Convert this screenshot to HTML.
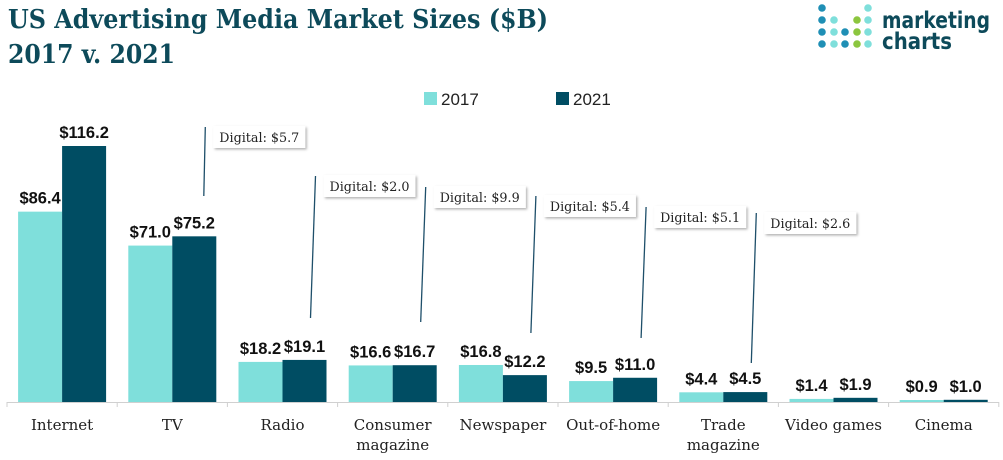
<!DOCTYPE html>
<html><head><meta charset="utf-8"><style>
html,body{margin:0;padding:0;background:#fff;width:1003px;height:460px;overflow:hidden}
svg{display:block}
</style></head><body>
<svg id="chart" width="1003" height="460" xmlns="http://www.w3.org/2000/svg">
  <defs><filter id="sh" x="-10%" y="-20%" width="130%" height="160%"><feDropShadow dx="1.5" dy="1.5" stdDeviation="1.2" flood-color="#000" flood-opacity="0.3"/></filter></defs>
  <g font-family="'DejaVu Serif','Liberation Serif',serif" font-weight="bold" fill="#0d4a5a">
    <text x="8" y="28" font-size="26" textLength="540" lengthAdjust="spacingAndGlyphs">US Advertising Media Market Sizes ($B)</text>
    <text x="8" y="63" font-size="26" textLength="167" lengthAdjust="spacingAndGlyphs">2017 v. 2021</text>
  </g>
  <g id="logo"></g>
  <g font-family="'Liberation Sans',sans-serif" font-size="17" fill="#222">
    <rect x="424" y="92" width="13" height="13" fill="#7fdfdb"/>
    <text x="441" y="105">2017</text>
    <rect x="556" y="92" width="13" height="13" fill="#004d63"/>
    <text x="573" y="105">2021</text>
  </g>
  <g id="plot"></g>
</svg>
<script>
const categories = [["Internet"],["TV"],["Radio"],["Consumer","magazine"],["Newspaper"],["Out-of-home"],["Trade","magazine"],["Video games"],["Cinema"]];
const values2017 = [86.4,71.0,18.2,16.6,16.8,9.5,4.4,1.4,0.9];
const values2021 = [116.2,75.2,19.1,16.7,12.2,11.0,4.5,1.9,1.0];
const digitalLabels = [null,"Digital: $5.7","Digital: $2.0","Digital: $9.9","Digital: $5.4","Digital: $5.1","Digital: $2.6",null,null];

const NS="http://www.w3.org/2000/svg";
const plot=document.getElementById('plot');
const baseY=402, pxPerUnit=256/116.2, x0=7, step=110.2, barW=44;
function yScale(v){return baseY - v*pxPerUnit;}
function xCenter(i){return x0 + step*(i+0.5);}
function mk(tag,attrs,parent){const e=document.createElementNS(NS,tag);for(const k in attrs)e.setAttribute(k,attrs[k]);(parent||plot).appendChild(e);return e;}

const axis=mk('line',{x1:x0,y1:baseY+0.5,x2:x0+step*9,y2:baseY+0.5,stroke:'#d0d0d0','stroke-width':1});


for(let i=0;i<=9;i++){
  const t=mk('line',{x1:x0+step*i,y1:baseY,x2:x0+step*i,y2:baseY+5,stroke:'#d0d0d0'});
  
  
}
categories.forEach((lines,i)=>{
  const cx=xCenter(i);
  const series=[[values2017[i],'#7fdfdb',cx-barW,'2017'],[values2021[i],'#004d63',cx,'2021']];
  series.forEach(([v,c,x,s])=>{
    const y=yScale(v);
    const r=mk('rect',{x:x,y:y,width:barW,height:baseY-y,fill:c});
    
    
    const t=mk('text',{x:x+barW/2,y:y-8,'text-anchor':'middle','font-family':"'Liberation Sans',sans-serif",'font-weight':'bold','font-size':16.5,fill:'#111'});
    t.textContent='$'+v.toFixed(1);
    
    
  });
  const lab=mk('text',{x:cx,y:430,'text-anchor':'middle','font-family':"'DejaVu Serif','Liberation Serif',serif",'font-size':15,fill:'#222'});
  
  
  lines.forEach((ln,j)=>{const ts=mk('tspan',{x:cx,dy:j?20:0},lab);ts.textContent=ln;});
  const d=digitalLabels[i];
  if(d){
    const lineTop = [0,127,176,187,196,207,213][i];
    const lineBot = [0,196,318,322,333,338,363][i];
    const lx = cx + 33;
    const l=mk('line',{x1:lx,y1:lineTop,x2:lx-(i===1?1.5:5),y2:lineBot,stroke:'#1e4f6a','stroke-width':1.3});
    
    
    const bx=lx+8, by=lineTop-1;
    const b=mk('rect',{x:bx,y:by,width:92,height:22,fill:'#fff',filter:'url(#sh)'});
    
    
    const tt=mk('text',{x:bx+46,y:by+16,'text-anchor':'middle','font-family':"'DejaVu Serif','Liberation Serif',serif",'font-size':13,fill:'#222',textLength:80,lengthAdjust:'spacingAndGlyphs'});
    tt.textContent=d;
    
    
  }
});
// logo
const logo=document.getElementById('logo');
const dots=[[0,0,'#1f8fb5'],[4,0,'#7fdfdb'],[0,1,'#1f8fb5'],[1,1,'#7fdfdb'],[3,1,'#8cc63f'],[4,1,'#7fdfdb'],[0,2,'#1f8fb5'],[1,2,'#7fdfdb'],[2,2,'#1f8fb5'],[3,2,'#8cc63f'],[4,2,'#7fdfdb'],[0,3,'#1f8fb5'],[1,3,'#7fdfdb'],[2,3,'#1f8fb5'],[3,3,'#8cc63f'],[4,3,'#7fdfdb']];
dots.forEach(([c,r,col])=>{
  mk('circle',{cx:[822,834,845,857,868][c],cy:[8,20,32,44][r],r:3.8,fill:col},logo);
});
const lt=mk('text',{x:882,y:28,'font-family':"'DejaVu Sans','Liberation Sans',sans-serif",'font-weight':'bold','font-size':23,fill:'#0d4a5a',textLength:108,lengthAdjust:'spacingAndGlyphs'},logo);lt.textContent='marketing';
const lt2=mk('text',{x:882,y:49,'font-family':"'DejaVu Sans','Liberation Sans',sans-serif",'font-weight':'bold','font-size':23,fill:'#0d4a5a',textLength:70,lengthAdjust:'spacingAndGlyphs'},logo);lt2.textContent='charts';
</script>
</body></html>
